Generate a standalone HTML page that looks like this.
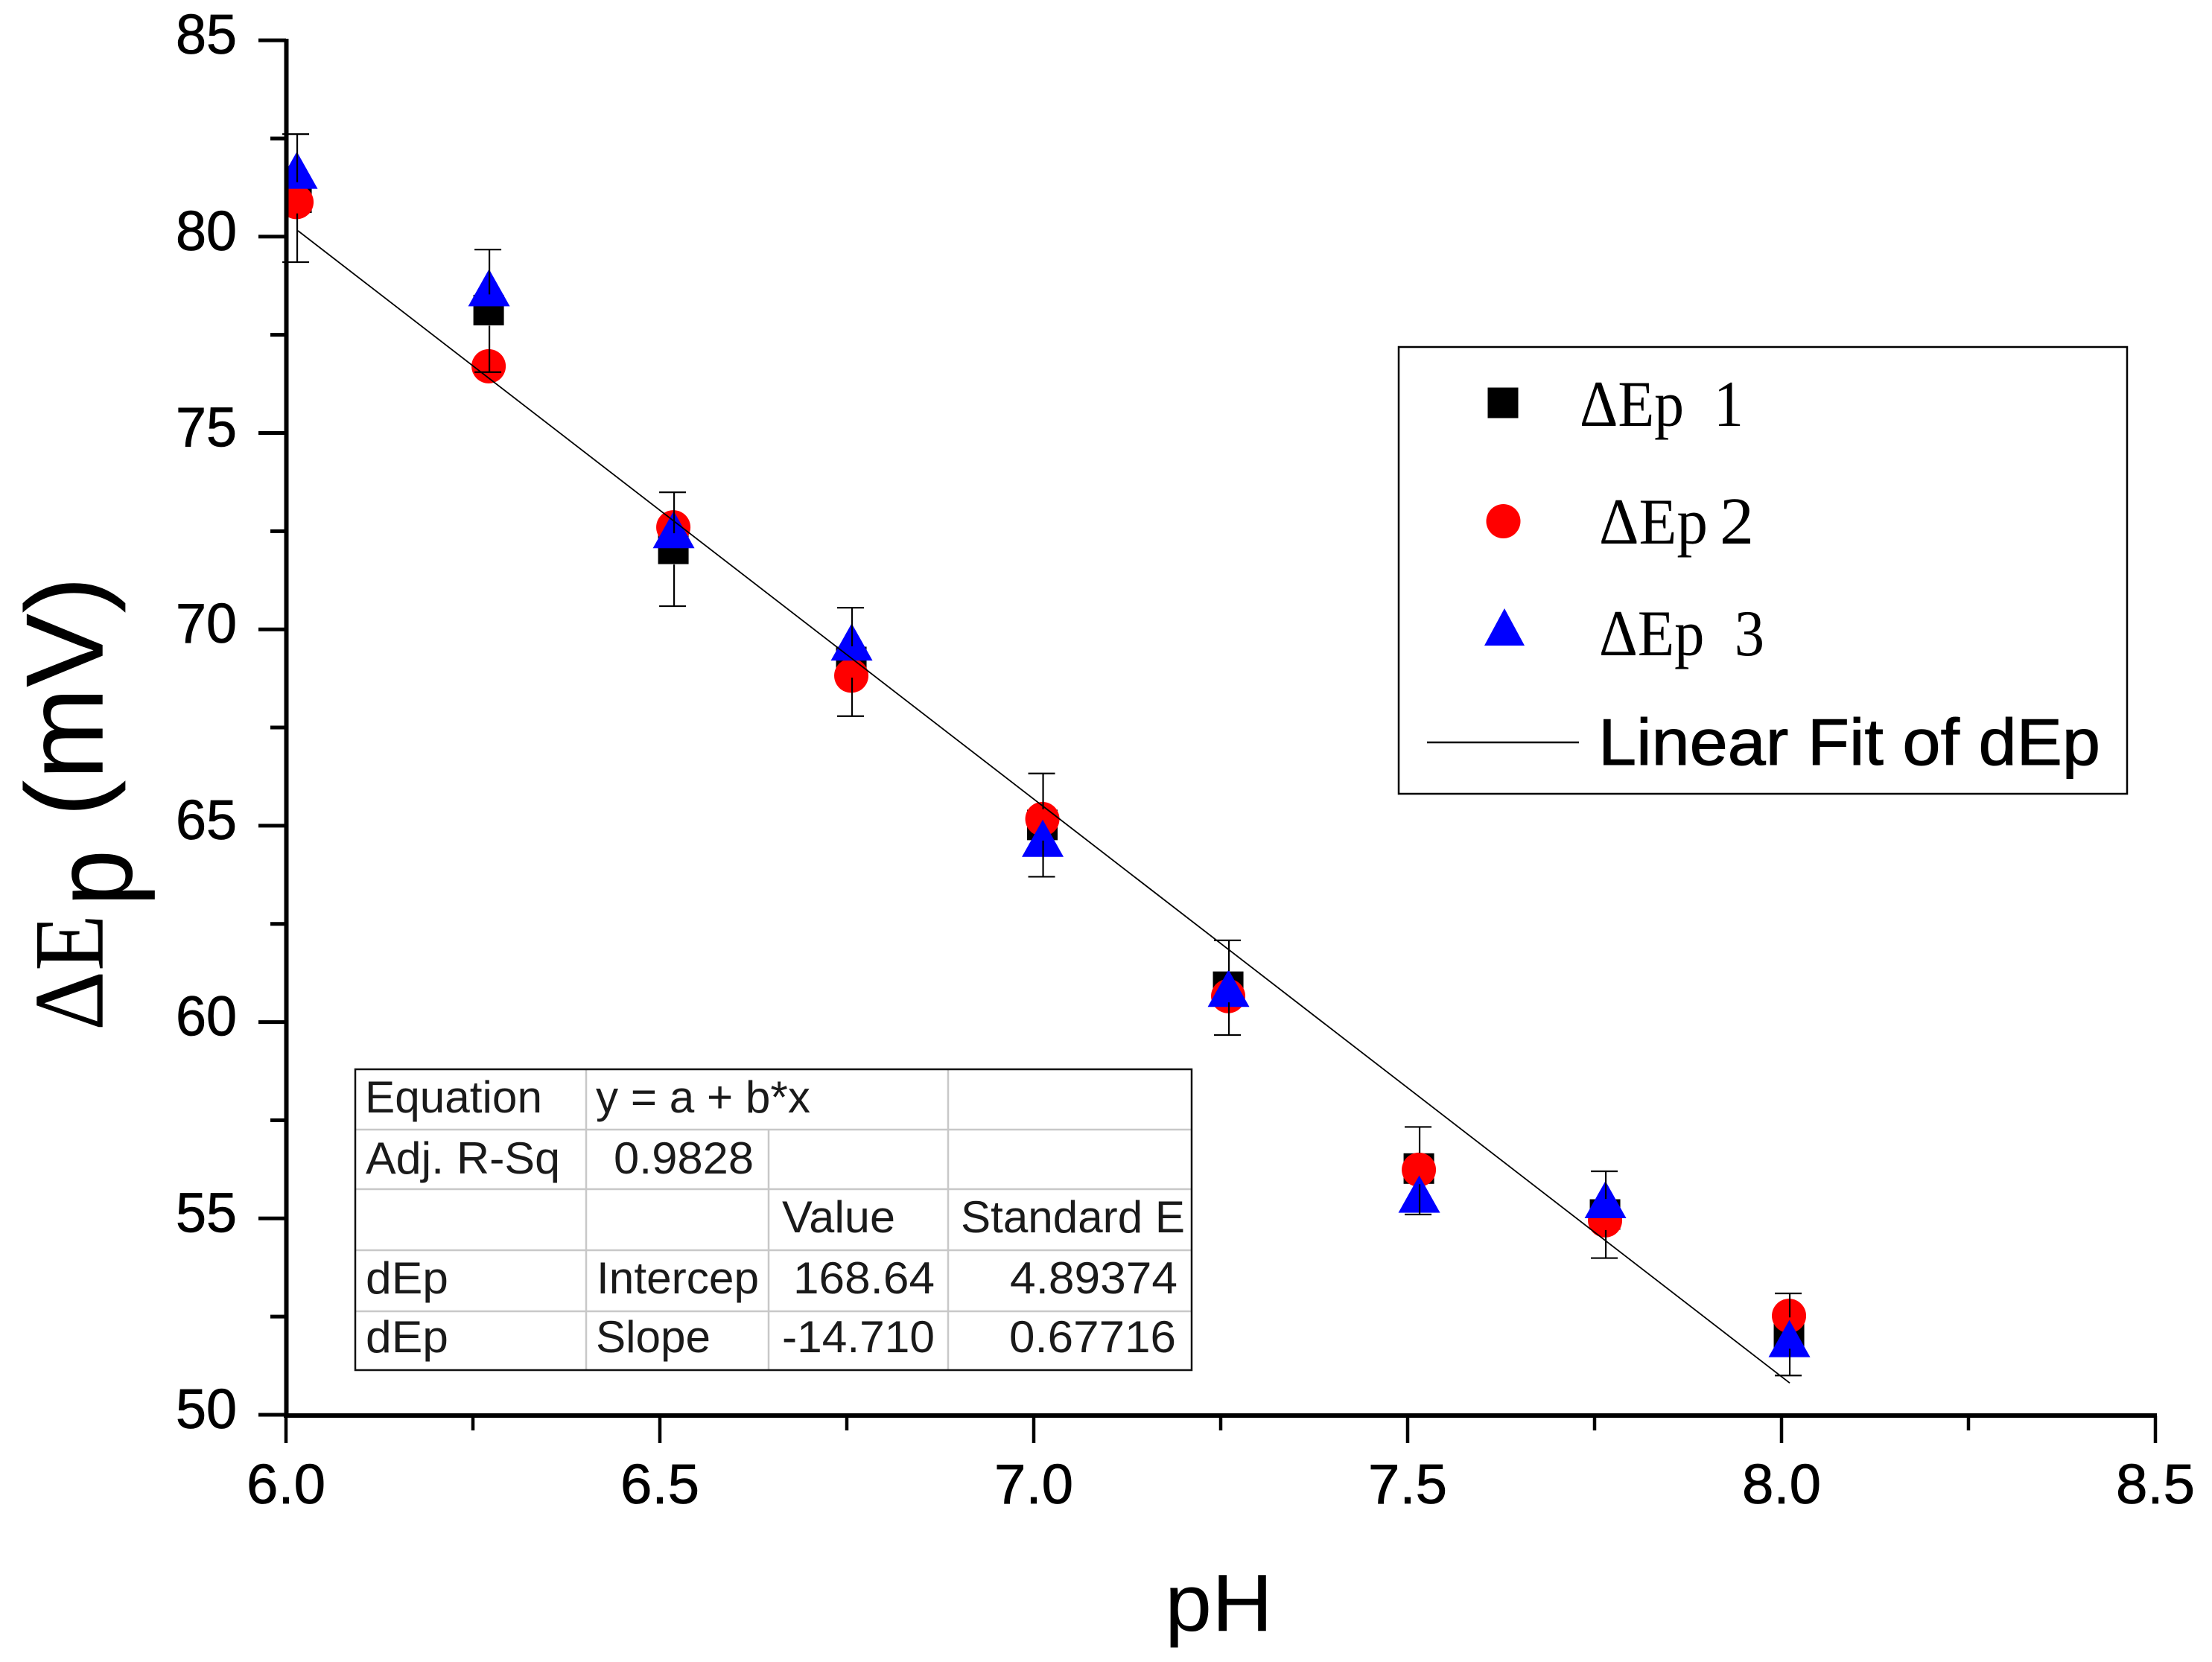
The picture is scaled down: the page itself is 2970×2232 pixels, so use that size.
<!DOCTYPE html>
<html lang="en">
<head>
<meta charset="utf-8">
<title>Delta Ep vs pH</title>
<style>
html,body{margin:0;padding:0;background:#fff;}
svg{display:block;}
text{font-family:"Liberation Sans",sans-serif;fill:#000;}
.serif{font-family:"Liberation Serif",serif;}
.cell{font-size:60px;fill:#1a1a1a;}
</style>
</head>
<body>
<svg id="chart" xmlns="http://www.w3.org/2000/svg" width="2970" height="2232" viewBox="0 0 2970 2232">
  <rect x="0" y="0" width="2970" height="2232" fill="#fff"/>
  <defs><clipPath id="plot-clip"><rect id="plot-clip-rect" x="382" y="0" width="2600" height="1901"/></clipPath></defs>
  <g id="fit-layer"></g>
  <g id="marks" clip-path="url(#plot-clip)"></g>
  <g id="errors"></g>
  <g id="axes"></g>

  <text x="1564" y="2190" font-size="109" textLength="145" lengthAdjust="spacingAndGlyphs">pH</text>
  <g transform="translate(137.7,1384) rotate(-90)">
    <text class="serif" x="0" y="0" font-size="134" textLength="156" lengthAdjust="spacingAndGlyphs">ΔE</text>
    <text x="167" y="39" font-size="150" textLength="76" lengthAdjust="spacingAndGlyphs">p</text>
    <text x="287" y="0" font-size="148" textLength="323" lengthAdjust="spacingAndGlyphs">(mV)</text>
  </g>

  <g>
    <rect x="1878" y="466" width="978" height="600" fill="#fff" stroke="#000" stroke-width="2.5"/>
    <rect x="1997.5" y="520.5" width="41" height="41" fill="#000"/>
    <circle cx="2018.5" cy="700" r="23" fill="#f00"/>
    <polygon points="2020,817 2047,867 1993,867" fill="#00f"/>
    <line x1="1916" y1="997" x2="2120" y2="997" stroke="#000" stroke-width="2.5"/>
    <text class="serif" x="2121" y="572" font-size="88" textLength="220" lengthAdjust="spacingAndGlyphs" xml:space="preserve">ΔEp  1</text>
    <text class="serif" x="2147" y="730" font-size="88" textLength="146" lengthAdjust="spacingAndGlyphs">ΔEp</text>
    <text class="serif" x="2309" y="730" font-size="90" textLength="46" lengthAdjust="spacingAndGlyphs">2</text>
    <text class="serif" x="2147" y="880" font-size="88" textLength="222" lengthAdjust="spacingAndGlyphs" xml:space="preserve">ΔEp  3</text>
    <text x="2146" y="1027" font-size="88" textLength="674" lengthAdjust="spacingAndGlyphs" stroke="#000" stroke-width="1">Linear Fit of dEp</text>
  </g>

  <g>
    <rect x="477" y="1436" width="1123" height="404" fill="#fff"/>
    <g stroke="#c8c8c8" stroke-width="2.5">
      <line x1="477" y1="1517" x2="1600" y2="1517"/>
      <line x1="477" y1="1597" x2="1600" y2="1597"/>
      <line x1="477" y1="1679" x2="1600" y2="1679"/>
      <line x1="477" y1="1761" x2="1600" y2="1761"/>
      <line x1="787" y1="1436" x2="787" y2="1840"/>
      <line x1="1032" y1="1517" x2="1032" y2="1840"/>
      <line x1="1273" y1="1436" x2="1273" y2="1840"/>
    </g>
    <rect x="477" y="1436" width="1123" height="404" fill="none" stroke="#111" stroke-width="2.5"/>
    <text class="cell" x="490" y="1494" textLength="238" lengthAdjust="spacingAndGlyphs">Equation</text>
    <text class="cell" x="800" y="1494" textLength="288" lengthAdjust="spacingAndGlyphs">y = a + b*x</text>
    <text class="cell" x="491" y="1576" textLength="261" lengthAdjust="spacingAndGlyphs">Adj. R-Sq</text>
    <text class="cell" x="824" y="1576" textLength="188" lengthAdjust="spacingAndGlyphs">0.9828</text>
    <text class="cell" x="1050" y="1655" textLength="152" lengthAdjust="spacingAndGlyphs">Value</text>
    <text class="cell" x="1290" y="1655" textLength="301" lengthAdjust="spacingAndGlyphs">Standard E</text>
    <text class="cell" x="491" y="1737" textLength="111" lengthAdjust="spacingAndGlyphs">dEp</text>
    <text class="cell" x="801" y="1737" textLength="218" lengthAdjust="spacingAndGlyphs">Intercep</text>
    <text class="cell" x="1065" y="1737" textLength="190" lengthAdjust="spacingAndGlyphs">168.64</text>
    <text class="cell" x="1356" y="1737" textLength="225" lengthAdjust="spacingAndGlyphs">4.89374</text>
    <text class="cell" x="491" y="1816" textLength="111" lengthAdjust="spacingAndGlyphs">dEp</text>
    <text class="cell" x="800" y="1816" textLength="154" lengthAdjust="spacingAndGlyphs">Slope</text>
    <text class="cell" x="1050" y="1816" textLength="205" lengthAdjust="spacingAndGlyphs">-14.710</text>
    <text class="cell" x="1355" y="1816" textLength="224" lengthAdjust="spacingAndGlyphs">0.67716</text>
  </g>
</svg>
<script>
const phValues = [6.015, 6.272, 6.519, 6.757, 7.0125, 7.261, 7.516, 7.765, 8.011];
const series1 = [80.99, 78.13, 72.05, 69.17, 65.02, 60.9, 56.27, 55.1, 52.08];
const series2 = [80.88, 76.7, 72.6, 68.82, 65.17, 60.66, 56.24, 54.95, 52.52];
const series3 = [81.69, 78.7, 72.54, 69.68, 64.68, 60.86, 55.62, 55.48, 51.94];
const errorTop = [82.61, 79.67, 73.49, 70.55, 66.33, 62.08, 57.33, 56.2, 53.09];
const errorBottom = [79.35, 76.55, 70.59, 67.79, 63.7, 59.67, 55.1, 53.99, 51.0];
const fitX = [6.016, 8.011];
const fitY = [80.15, 50.81];
const xMajorTicks = ["6.0", "6.5", "7.0", "7.5", "8.0", "8.5"];
const xMinorTicks = [6.25, 6.75, 7.25, 7.75, 8.25];
const yMajorTicks = ["50", "55", "60", "65", "70", "75", "80", "85"];
const yMinorTicks = [52.5, 57.5, 62.5, 67.5, 72.5, 77.5, 82.5];

const NS = 'http://www.w3.org/2000/svg';
function xScale(v) { return 384 + (v - 6) * 1004; }
function yScale(v) { return 1900 - (v - 50) * 52.74; }
function make(tag, parent, attrs) {
  const el = document.createElementNS(NS, tag);
  for (const k in attrs) el.setAttribute(k, attrs[k]);
  parent.appendChild(el);
  return el;
}
const marks = document.getElementById('marks');
const errors = document.getElementById('errors');
const axes = document.getElementById('axes');

phValues.forEach(function (ph, i) {
  const cx = xScale(ph);
  const sq = make('rect', marks, { x: cx - 21.5, y: yScale(series1[i]) - 20.5, width: 41, height: 41, fill: '#000' });
  
  
});
phValues.forEach(function (ph, i) {
  const cx = xScale(ph);
  const c = make('circle', marks, { cx: cx - 1, cy: yScale(series2[i]), r: 23, fill: '#f00' });
  
  
});
phValues.forEach(function (ph, i) {
  const cx = xScale(ph) - 0.5;
  const cy = yScale(series3[i]);
  const t = make('polygon', marks, { points: cx + ',' + (cy - 25) + ' ' + (cx + 28) + ',' + (cy + 25) + ' ' + (cx - 28) + ',' + (cy + 25), fill: '#00f' });
  
  
});
phValues.forEach(function (ph, i) {
  const cx = xScale(ph);
  const top = yScale(errorTop[i]);
  const bottom = yScale(errorBottom[i]);
  const center = yScale(series1[i]);
  const e = make('path', errors, {
    d: 'M' + cx + ' ' + top + 'V' + (center - 21) + 'M' + cx + ' ' + (center + 21) + 'V' + bottom +
       'M' + (cx - 20) + ' ' + top + 'H' + (cx + 16) + 'M' + (cx - 20) + ' ' + bottom + 'H' + (cx + 16),
    fill: 'none', stroke: '#000', 'stroke-width': 2.2
  });
  
  
});
const fit = make('line', errors, { x1: xScale(fitX[0]), y1: yScale(fitY[0]), x2: xScale(fitX[1]), y2: yScale(fitY[1]), stroke: '#000', 'stroke-width': 1.8 });



const yAxisLine = make('line', axes, { x1: 384.5, y1: yScale(85) - 2, x2: 384.5, y2: yScale(50) + 4, stroke: '#000', 'stroke-width': 6 });


const xAxisLine = make('line', axes, { x1: 381, y1: 1901, x2: xScale(8.5) + 2, y2: 1901, stroke: '#000', 'stroke-width': 6 });



xMajorTicks.forEach(function (lab) {
  const px = xScale(parseFloat(lab));
  const tk = make('line', axes, { x1: px, y1: 1901, x2: px, y2: 1938, stroke: '#000', 'stroke-width': 4.5 });
  
  
  const tx = make('text', axes, { x: px - 53, y: 2019, 'font-size': 75, textLength: 106, lengthAdjust: 'spacingAndGlyphs', stroke: '#000', 'stroke-width': 0.8 });
  tx.textContent = lab;
  
  
});
xMinorTicks.forEach(function (v) {
  const px = xScale(v);
  const tk = make('line', axes, { x1: px, y1: 1901, x2: px, y2: 1921, stroke: '#000', 'stroke-width': 4.5 });
  
  
});
yMajorTicks.forEach(function (lab) {
  const py = yScale(parseFloat(lab));
  const tk = make('line', axes, { x1: 347, y1: py, x2: 384, y2: py, stroke: '#000', 'stroke-width': 5 });
  
  
  const tx = make('text', axes, { x: 236, y: py + 18, 'font-size': 75, textLength: 82, lengthAdjust: 'spacingAndGlyphs', stroke: '#000', 'stroke-width': 0.8 });
  tx.textContent = lab;
  
  
});
yMinorTicks.forEach(function (v) {
  const py = yScale(v);
  const tk = make('line', axes, { x1: 363, y1: py, x2: 384, y2: py, stroke: '#000', 'stroke-width': 5 });
  
  
});
</script>
</body>
</html>
